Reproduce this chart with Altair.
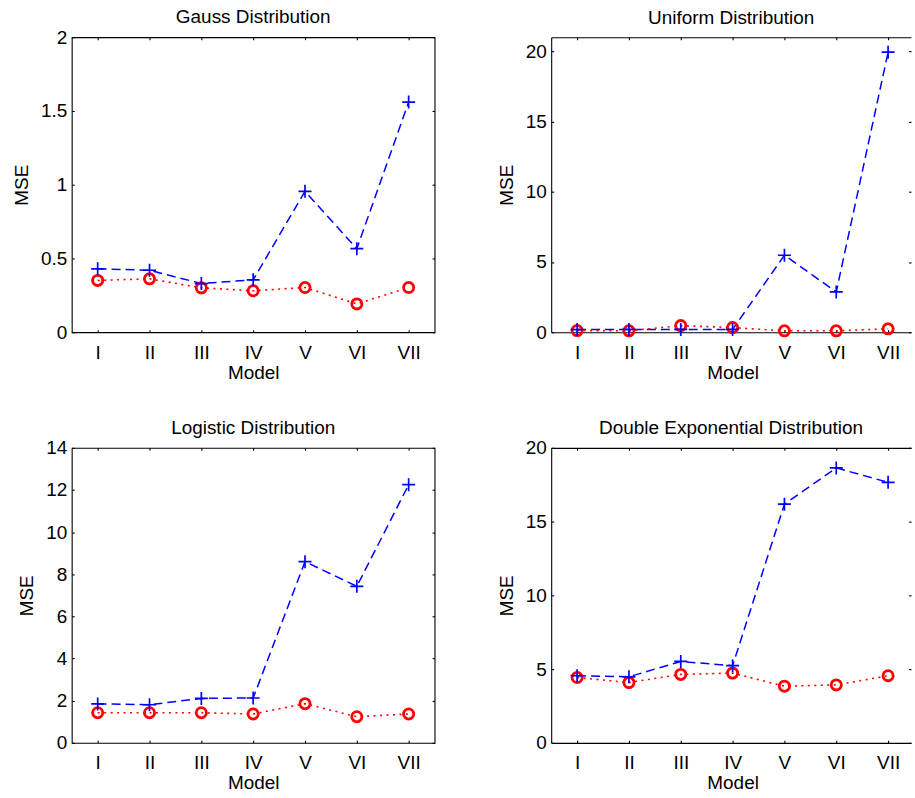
import altair as alt
import pandas as pd

models = ["I", "II", "III", "IV", "V", "VI", "VII"]

gauss_blue = [0.43, 0.42, 0.33, 0.355, 0.955, 0.566, 1.56]
gauss_red = [0.351, 0.362, 0.301, 0.281, 0.303, 0.192, 0.303]

uniform_blue = [0.19, 0.2, 0.2, 0.2, 5.48, 2.87, 19.93]
uniform_red = [0.12, 0.1, 0.47, 0.33, 0.1, 0.1, 0.24]

logistic_blue = [1.85, 1.81, 2.11, 2.13, 8.6, 7.43, 12.25]
logistic_red = [1.43, 1.43, 1.43, 1.37, 1.86, 1.24, 1.37]

dexp_blue = [4.55, 4.48, 5.52, 5.23, 16.18, 18.64, 17.66]
dexp_red = [4.43, 4.09, 4.64, 4.73, 3.84, 3.93, 4.55]

FONT = "Liberation Sans"
FS = 19
BLUE = "#0000ff"
RED = "#ff0000"
TICK = 2.5
STEP_W = 364  # x range width giving the category spacing


def panel(title, blue, red, ymax, yticks, title_offset, view_w, clipped_right):
    df = pd.DataFrame({
        "model": models * 2,
        "mse": blue + red,
        "series": ["blue"] * len(models) + ["red"] * len(models),
    })
    xs = alt.Scale(type="point", padding=0.5, domain=models, range=[0, STEP_W])
    ys = alt.Scale(domain=[0, ymax], nice=False, zero=True)
    ax_bottom = alt.Axis(orient="bottom", title="Model", values=models, offset=-TICK, tickSize=TICK,
                         domain=False, grid=False, labelAngle=0, labelPadding=11, titlePadding=1)
    ax_left = alt.Axis(orient="left", title="MSE", values=yticks, format="~g", offset=-TICK, tickSize=TICK,
                       domain=False, grid=False, labelPadding=5, titlePadding=9)
    ax_top = alt.Axis(orient="top", title=None, labels=False, values=models, offset=-TICK, tickSize=TICK,
                      domain=False, grid=False)
    ax_right = alt.Axis(orient="right", title=None, labels=False, values=yticks, offset=-TICK,
                        tickSize=TICK, domain=False, grid=False)
    base = alt.Chart(df)
    bdata = base.transform_filter("datum.series == 'blue'")
    rdata = base.transform_filter("datum.series == 'red'")
    blue_line = bdata.mark_line(color=BLUE, strokeDash=[9, 5], strokeWidth=1.5).encode(
        x=alt.X("model:O", sort=models, scale=xs, axis=ax_bottom),
        y=alt.Y("mse:Q", scale=ys, axis=ax_left),
    )
    red_line = rdata.mark_line(color=RED, strokeDash=[2, 4.5], strokeWidth=1.6).encode(
        x=alt.X("model:O", sort=models, scale=xs, axis=ax_top),
        y=alt.Y("mse:Q", scale=ys, axis=ax_right),
    )
    blue_pts = bdata.mark_point(shape="M-1,0L1,0M0,-1L0,1", filled=False, color=BLUE,
                                strokeWidth=1.7, size=170, opacity=1).encode(
        x=alt.X("model:O", sort=models, scale=xs, axis=None),
        y=alt.Y("mse:Q", scale=ys, axis=None),
    )
    red_pts = rdata.mark_point(shape="circle", filled=False, color=RED,
                               strokeWidth=2.8, size=105, opacity=1).encode(
        x=alt.X("model:O", sort=models, scale=xs, axis=None),
        y=alt.Y("mse:Q", scale=ys, axis=None),
    )
    layers = [blue_line, red_line, red_pts, blue_pts]
    props = dict(
        width=view_w, height=296,
        title=alt.TitleParams(title, fontSize=FS, fontWeight="normal", font=FONT,
                              color="black", offset=title_offset, frame="group", anchor="middle"),
    )
    if clipped_right:
        # box drawn from axis domains (no right edge: it lies past the window)
        bs = alt.Scale(type="point", padding=0.5, domain=models)
        dom = dict(domain=True, domainColor="black", domainWidth=1.1, ticks=False, labels=False,
                   title=None, grid=False, offset=0)
        border_a = bdata.mark_point(opacity=0).encode(
            x=alt.X("model:O", sort=models, scale=bs, axis=alt.Axis(orient="bottom", **dom)),
            y=alt.Y("mse:Q", scale=ys, axis=alt.Axis(orient="left", **dom)),
        )
        border_b = bdata.mark_point(opacity=0).encode(
            x=alt.X("model:O", sort=models, scale=bs, axis=alt.Axis(orient="top", **dom)),
            y=alt.Y("mse:Q", scale=ys, axis=None),
        )
        layers += [border_a, border_b]
        props["view"] = alt.ViewBackground(stroke="transparent")
        return alt.layer(*layers).resolve_scale(x="independent").resolve_axis(
            x="independent", y="independent"
        ).properties(**props)
    return alt.layer(*layers).resolve_axis(
        x="independent", y="independent"
    ).properties(**props)


p1 = panel("Gauss Distribution", gauss_blue, gauss_red, 2, [0, 0.5, 1, 1.5, 2], 1, 364, False)
p2 = panel("Uniform Distribution", uniform_blue, uniform_red, 21, [0, 5, 10, 15, 20], 9, 361, True)
p3 = panel("Logistic Distribution", logistic_blue, logistic_red, 14, [0, 2, 4, 6, 8, 10, 12, 14], 1, 364, False)
p4 = panel("Double Exponential Distribution", dexp_blue, dexp_red, 20, [0, 5, 10, 15, 20], 1, 361, True)

chart = alt.concat(
    p1, p2, p3, p4, columns=2, spacing={"row": 116, "column": 117}, bounds="flush"
).configure_view(
    stroke="black", strokeWidth=1.1
).configure_axis(
    labelFont=FONT, labelFontSize=FS, titleFont=FONT, titleFontSize=FS, titleFontWeight="normal",
    labelColor="black", titleColor="black", tickColor="black", tickWidth=1.1,
).properties(
    padding={"left": 12, "top": 6, "right": 0, "bottom": 0},
    background="white",
)

chart.save("out.html", embed_options={"renderer": "svg", "actions": False})
